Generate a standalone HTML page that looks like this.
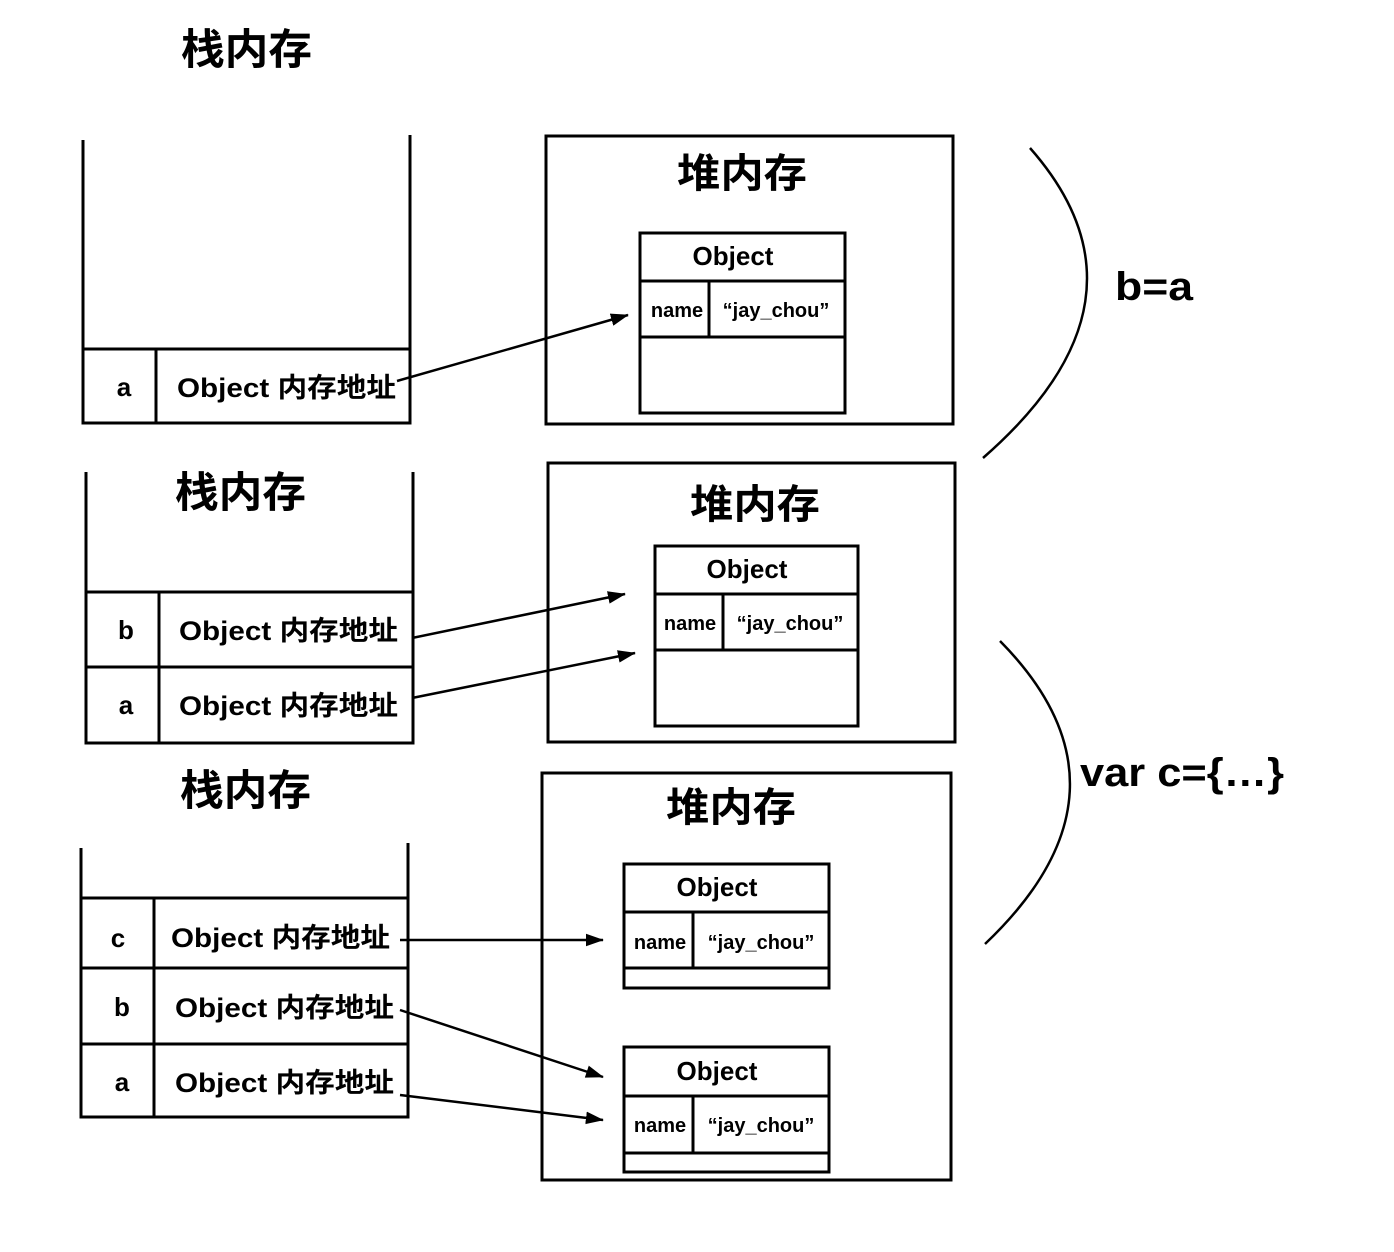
<!DOCTYPE html>
<html><head><meta charset="utf-8"><style>
html,body{margin:0;padding:0;background:#fff;}
svg{display:block;}
text{font-family:"Liberation Sans","Noto Sans CJK SC",sans-serif;font-weight:bold;fill:#000;}
</style></head><body>
<svg width="1394" height="1252" viewBox="0 0 1394 1252" xmlns="http://www.w3.org/2000/svg">
<defs>
<marker id="a" viewBox="0 0 20 14" refX="19" refY="7" markerWidth="18" markerHeight="13" orient="auto" markerUnits="userSpaceOnUse"><path d="M0,0 L20,7 L0,14 z" fill="#000"/></marker></defs>
<g stroke="#000" stroke-width="3" fill="none">
<path d="M83,140 V423 H410 V135 M83,349 H410 M156,349 V423"/>
<rect x="546" y="136" width="407" height="288"/>
<rect x="640" y="233" width="205" height="180"/>
<path d="M640,281 H845 M640,337 H845 M709,281 V337"/>
<line x1="397" y1="381" x2="628" y2="315" stroke-width="2.5" marker-end="url(#a)"/>
<path d="M1030,148 Q1164,300 983,458" stroke-width="2.5"/>
<path d="M86,472 V743 H413 V472 M86,592 H413 M86,667 H413 M159,592 V743"/>
<rect x="548" y="463" width="407" height="279"/>
<rect x="655" y="546" width="203" height="180"/>
<path d="M655,594 H858 M655,650 H858 M723,594 V650"/>
<line x1="412" y1="638" x2="625" y2="594" stroke-width="2.5" marker-end="url(#a)"/>
<line x1="412" y1="698" x2="635" y2="653" stroke-width="2.5" marker-end="url(#a)"/>
<path d="M1000,641 Q1147,790 985,944" stroke-width="2.5"/>
<path d="M81,848 V1117 H408 V843 M81,898 H408 M81,968 H408 M81,1044 H408 M154,898 V1117"/>
<rect x="542" y="773" width="409" height="407"/>
<rect x="624" y="864" width="205" height="124"/>
<path d="M624,912 H829 M624,968 H829 M693,912 V968"/>
<rect x="624" y="1047" width="205" height="125"/>
<path d="M624,1096 H829 M624,1153 H829 M693,1096 V1153"/>
<line x1="400" y1="940" x2="603" y2="940" stroke-width="2.5" marker-end="url(#a)"/>
<line x1="400" y1="1010" x2="603" y2="1077" stroke-width="2.5" marker-end="url(#a)"/>
<line x1="400" y1="1095" x2="603" y2="1120" stroke-width="2.5" marker-end="url(#a)"/>
</g>
<g>
<text x="181" y="64" font-size="42" textLength="131" lengthAdjust="spacingAndGlyphs">栈内存</text>
<text x="124" y="396" font-size="26" text-anchor="middle">a</text>
<text x="177" y="397" font-size="27" textLength="219" lengthAdjust="spacingAndGlyphs">Object 内存地址</text>
<text x="677" y="187" font-size="40" textLength="130" lengthAdjust="spacingAndGlyphs">堆内存</text>
<text x="733" y="265" font-size="26" text-anchor="middle">Object</text>
<text x="677" y="317" font-size="20" text-anchor="middle">name</text>
<text x="776" y="317" font-size="20" text-anchor="middle">“jay_chou”</text>
<text x="1115" y="300" font-size="40" textLength="78" lengthAdjust="spacingAndGlyphs">b=a</text>

<text x="175" y="507" font-size="42" textLength="131" lengthAdjust="spacingAndGlyphs">栈内存</text>
<text x="126" y="639" font-size="26" text-anchor="middle">b</text>
<text x="126" y="714" font-size="26" text-anchor="middle">a</text>
<text x="179" y="640" font-size="27" textLength="219" lengthAdjust="spacingAndGlyphs">Object 内存地址</text>
<text x="179" y="715" font-size="27" textLength="219" lengthAdjust="spacingAndGlyphs">Object 内存地址</text>
<text x="690" y="518" font-size="40" textLength="130" lengthAdjust="spacingAndGlyphs">堆内存</text>
<text x="747" y="578" font-size="26" text-anchor="middle">Object</text>
<text x="690" y="630" font-size="20" text-anchor="middle">name</text>
<text x="790" y="630" font-size="20" text-anchor="middle">“jay_chou”</text>
<text x="1080" y="786" font-size="40" textLength="204" lengthAdjust="spacingAndGlyphs">var c={…}</text>

<text x="180" y="805" font-size="42" textLength="131" lengthAdjust="spacingAndGlyphs">栈内存</text>
<text x="118" y="947" font-size="26" text-anchor="middle">c</text>
<text x="122" y="1016" font-size="26" text-anchor="middle">b</text>
<text x="122" y="1091" font-size="26" text-anchor="middle">a</text>
<text x="171" y="947" font-size="27" textLength="219" lengthAdjust="spacingAndGlyphs">Object 内存地址</text>
<text x="175" y="1017" font-size="27" textLength="219" lengthAdjust="spacingAndGlyphs">Object 内存地址</text>
<text x="175" y="1092" font-size="27" textLength="219" lengthAdjust="spacingAndGlyphs">Object 内存地址</text>
<text x="666" y="821" font-size="40" textLength="130" lengthAdjust="spacingAndGlyphs">堆内存</text>
<text x="717" y="896" font-size="26" text-anchor="middle">Object</text>
<text x="660" y="949" font-size="20" text-anchor="middle">name</text>
<text x="761" y="949" font-size="20" text-anchor="middle">“jay_chou”</text>
<text x="717" y="1080" font-size="26" text-anchor="middle">Object</text>
<text x="660" y="1132" font-size="20" text-anchor="middle">name</text>
<text x="761" y="1132" font-size="20" text-anchor="middle">“jay_chou”</text>
</g>
</svg>
</body></html>
